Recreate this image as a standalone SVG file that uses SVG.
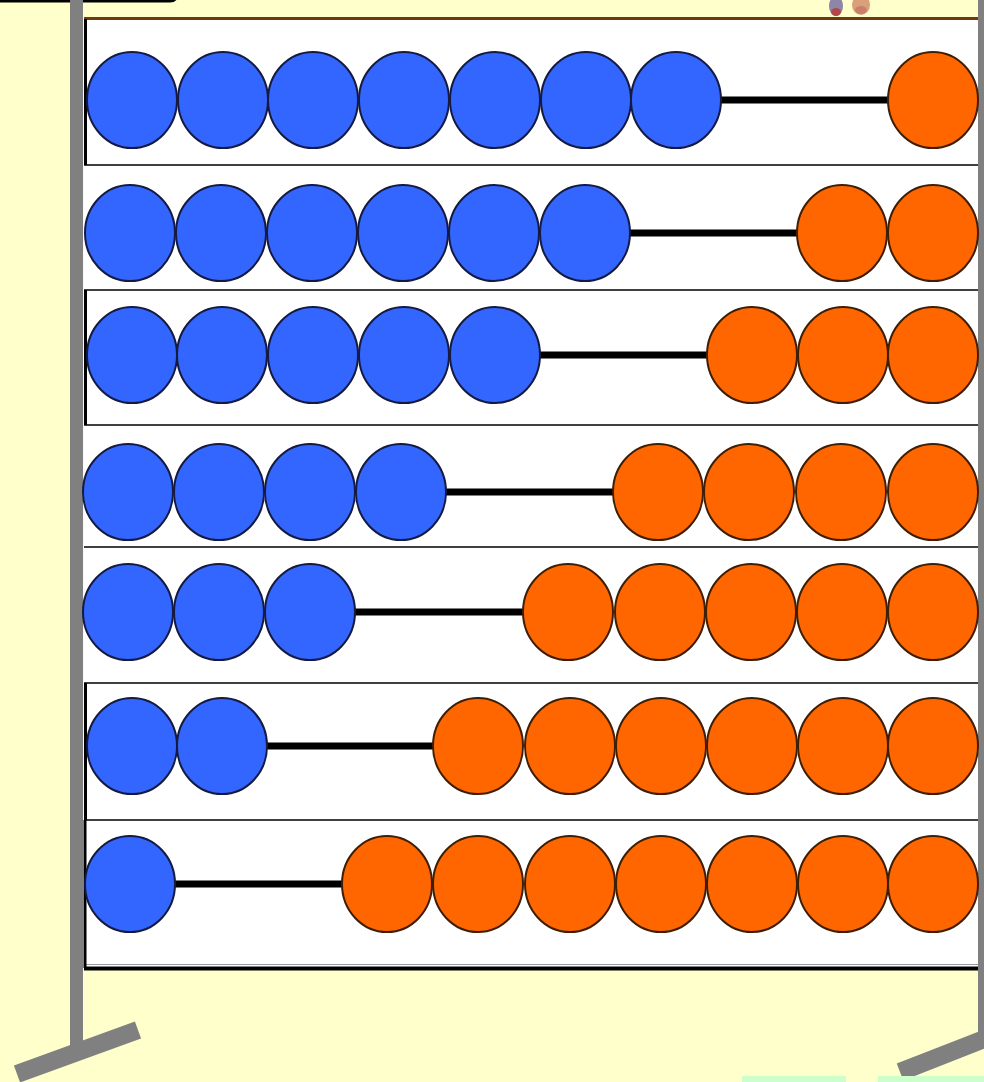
<svg xmlns="http://www.w3.org/2000/svg" width="984" height="1082" viewBox="0 0 984 1082">
  <style>
    .pole { fill: #808080; }
    .row { fill: #FFFFFF; }
    .sep { stroke: #000000; stroke-width: 1.5; }
    .edge { stroke: #000000; stroke-width: 3; }
    .blue { fill: #3366FF; stroke: #151A40; stroke-width: 2; }
    .orange { fill: #FF6600; stroke: #3F1E06; stroke-width: 2; }
    .rod { stroke: #000000; stroke-width: 7; }
  </style>
  <defs>
    <ellipse id="bead" cx="0" cy="0" rx="45" ry="48"/>
  </defs>
  <rect x="0" y="0" width="984" height="1082" fill="#FFFFCC"/>

  <!-- top-left box edge -->
  <path d="M0 1 L170 1 Q176 1 177 -5" fill="none" stroke="#000000" stroke-width="3"/>

  <!-- small top-right figures -->
  <g id="figures">
    <ellipse cx="836" cy="6" rx="7" ry="10" fill="#8E86A8"/>
    <ellipse cx="836" cy="12" rx="5" ry="4" fill="#B04A4A"/>
    <ellipse cx="861" cy="5" rx="9" ry="10" fill="#D9A07A"/>
    <ellipse cx="861" cy="10" rx="6" ry="4" fill="#C9806A"/>
  </g>

  <!-- frame -->
  <g id="frame">
    <rect class="pole" x="70" y="0" width="13" height="1048"/>
    <rect class="pole" x="978" y="0" width="8" height="1045"/>
    <line x1="17" y1="1074" x2="138" y2="1030" stroke="#808080" stroke-width="18"/>
    <line x1="900" y1="1072" x2="992" y2="1036" stroke="#808080" stroke-width="18"/>
    <rect x="742" y="1076" width="104" height="6" fill="#CCFFCC"/>
    <rect x="878" y="1076" width="106" height="6" fill="#CCFFCC"/>
  </g>

  <!-- row backgrounds -->
  <g id="rows">
    <rect class="row" x="84" y="19" width="894" height="949"/>
    <line x1="84" y1="18.5" x2="978" y2="18.5" stroke="#6B3A0E" stroke-width="3"/>
    <line class="sep" x1="84" y1="165" x2="978" y2="165"/>
    <line class="sep" x1="84" y1="290" x2="978" y2="290"/>
    <line class="sep" x1="84" y1="425" x2="978" y2="425"/>
    <line class="sep" x1="84" y1="547" x2="978" y2="547"/>
    <line class="sep" x1="84" y1="683" x2="978" y2="683"/>
    <line class="sep" x1="84" y1="820" x2="978" y2="820"/>
    <line x1="84" y1="964.5" x2="978" y2="964.5" stroke="#999999" stroke-width="1"/>
    <line x1="84" y1="968.5" x2="978" y2="968.5" stroke="#000000" stroke-width="4"/>
    <line class="edge" x1="85.5" y1="19" x2="85.5" y2="165"/>
    <line class="edge" x1="85.5" y1="290" x2="85.5" y2="425"/>
    <line class="edge" x1="85.5" y1="683" x2="85.5" y2="820"/>
    <line class="edge" x1="85" y1="820" x2="85" y2="968"/>
  </g>

  <!-- rods -->
  <g id="connectors">
    <line class="rod" x1="720" y1="100" x2="889" y2="100"/>
    <line class="rod" x1="629" y1="233" x2="798" y2="233"/>
    <line class="rod" x1="539" y1="355" x2="708" y2="355"/>
    <line class="rod" x1="445" y1="492" x2="614" y2="492"/>
    <line class="rod" x1="354" y1="612" x2="524" y2="612"/>
    <line class="rod" x1="266" y1="746" x2="434" y2="746"/>
    <line class="rod" x1="174" y1="884" x2="343" y2="884"/>
  </g>

  <g id="row1">
    <use href="#bead" class="blue" x="132" y="100"/>
    <use href="#bead" class="blue" x="223" y="100"/>
    <use href="#bead" class="blue" x="313" y="100"/>
    <use href="#bead" class="blue" x="404" y="100"/>
    <use href="#bead" class="blue" x="495" y="100"/>
    <use href="#bead" class="blue" x="586" y="100"/>
    <use href="#bead" class="blue" x="676" y="100"/>
    <use href="#bead" class="orange" x="933" y="100"/>
  </g>
  <g id="row2">
    <use href="#bead" class="blue" x="130" y="233"/>
    <use href="#bead" class="blue" x="221" y="233"/>
    <use href="#bead" class="blue" x="312" y="233"/>
    <use href="#bead" class="blue" x="403" y="233"/>
    <use href="#bead" class="blue" x="494" y="233"/>
    <use href="#bead" class="blue" x="585" y="233"/>
    <use href="#bead" class="orange" x="842" y="233"/>
    <use href="#bead" class="orange" x="933" y="233"/>
  </g>
  <g id="row3">
    <use href="#bead" class="blue" x="132" y="355"/>
    <use href="#bead" class="blue" x="222" y="355"/>
    <use href="#bead" class="blue" x="313" y="355"/>
    <use href="#bead" class="blue" x="404" y="355"/>
    <use href="#bead" class="blue" x="495" y="355"/>
    <use href="#bead" class="orange" x="752" y="355"/>
    <use href="#bead" class="orange" x="843" y="355"/>
    <use href="#bead" class="orange" x="933" y="355"/>
  </g>
  <g id="row4">
    <use href="#bead" class="blue" x="128" y="492"/>
    <use href="#bead" class="blue" x="219" y="492"/>
    <use href="#bead" class="blue" x="310" y="492"/>
    <use href="#bead" class="blue" x="401" y="492"/>
    <use href="#bead" class="orange" x="658" y="492"/>
    <use href="#bead" class="orange" x="749" y="492"/>
    <use href="#bead" class="orange" x="841" y="492"/>
    <use href="#bead" class="orange" x="933" y="492"/>
  </g>
  <g id="row5">
    <use href="#bead" class="blue" x="128" y="612"/>
    <use href="#bead" class="blue" x="219" y="612"/>
    <use href="#bead" class="blue" x="310" y="612"/>
    <use href="#bead" class="orange" x="568" y="612"/>
    <use href="#bead" class="orange" x="660" y="612"/>
    <use href="#bead" class="orange" x="751" y="612"/>
    <use href="#bead" class="orange" x="842" y="612"/>
    <use href="#bead" class="orange" x="933" y="612"/>
  </g>
  <g id="row6">
    <use href="#bead" class="blue" x="132" y="746"/>
    <use href="#bead" class="blue" x="222" y="746"/>
    <use href="#bead" class="orange" x="478" y="746"/>
    <use href="#bead" class="orange" x="570" y="746"/>
    <use href="#bead" class="orange" x="661" y="746"/>
    <use href="#bead" class="orange" x="752" y="746"/>
    <use href="#bead" class="orange" x="843" y="746"/>
    <use href="#bead" class="orange" x="933" y="746"/>
  </g>
  <g id="row7">
    <use href="#bead" class="blue" x="130" y="884"/>
    <use href="#bead" class="orange" x="387" y="884"/>
    <use href="#bead" class="orange" x="478" y="884"/>
    <use href="#bead" class="orange" x="570" y="884"/>
    <use href="#bead" class="orange" x="661" y="884"/>
    <use href="#bead" class="orange" x="752" y="884"/>
    <use href="#bead" class="orange" x="843" y="884"/>
    <use href="#bead" class="orange" x="933" y="884"/>
  </g>
</svg>
